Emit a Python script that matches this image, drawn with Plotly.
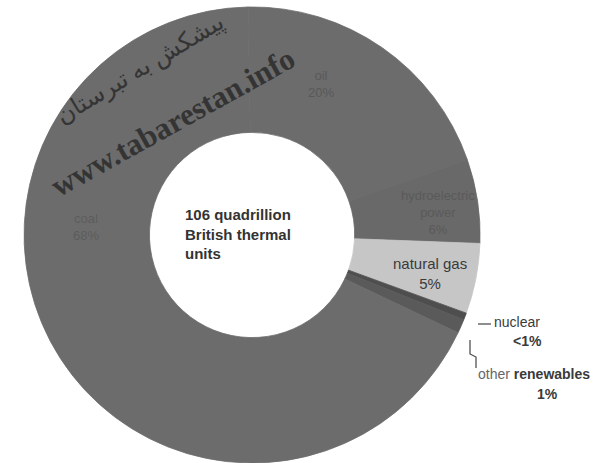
import plotly.graph_objects as go

categories = ["oil", "hydroelectric power", "natural gas", "nuclear", "other renewables", "coal"]
values = [20, 6, 5, 0.5, 1, 68]
pct_labels = ["20%", "6%", "5%", "<1%", "1%", "68%"]
colors = ["#6c6c6c", "#696969", "#c6c6c6", "#4e4e4e", "#5a5a5a", "#6c6c6c"]
center_text = "106 quadrillion<br>British thermal<br>units"

W, H = 604, 463

def px(x):
    return x / W

def py(y):
    return 1 - y / H

fig = go.Figure()
fig.add_trace(go.Pie(
    labels=categories,
    values=values,
    sort=False,
    direction="clockwise",
    rotation=-1,
    hole=0.45,
    marker=dict(colors=colors, line=dict(width=0.8, color=colors)),
    textinfo="none",
    hoverinfo="none",
    showlegend=False,
    domain=dict(x=[0.0397, 0.795], y=[0.0, 0.985]),
))

ann = []
def label(x, y, text, size=14, color="#333333", font="Arial, Liberation Sans, sans-serif", align="center", xanchor="center", angle=0, opacity=1):
    ann.append(dict(x=px(x), y=py(y), xref="paper", yref="paper", text=text, showarrow=False,
                    font=dict(size=size, color=color, family=font), align=align, xanchor=xanchor,
                    yanchor="middle", textangle=angle, opacity=opacity))

# faint labels on dark slices
label(321, 84, categories[0] + "<br>" + pct_labels[0], size=13, color="#595959")
label(86, 227, categories[5] + "<br>" + pct_labels[5], size=13, color="#5c5c5c")
label(438, 212, "hydroelectric<br>power<br>" + pct_labels[1], size=13, color="#5a5a5a")
# natural gas
label(430, 273, categories[2] + "<br>" + pct_labels[2], size=15, color="#3a3a3a")
# outside labels
label(492, 322, "nuclear", size=14, color="#3a3a3a", xanchor="left")
label(527, 341, "<b>" + pct_labels[3].replace("<", "&lt;") + "</b>", size=14, color="#3a3a3a")
label(476, 374, "<span style='color:#666666'>other</span> <b>renewables</b>", size=14, color="#3a3a3a", xanchor="left")
label(547, 394, "<b>" + pct_labels[4] + "</b>", size=14, color="#3a3a3a")
# center
label(183, 234, "<b>" + center_text + "</b>", size=15, color="#333333", align="left", xanchor="left")
# watermark
label(172, 122, "<b>www.tabarestan.info</b>", size=31, color="#2b2b2b",
      font="Liberation Serif, Times New Roman, serif", angle=-29, opacity=0.85)
label(139, 68, "پیشکش به تبرستان", size=24, color="#2b2b2b",
      font="Noto Sans, DejaVu Sans, sans-serif", angle=-31, opacity=0.85)

fig.update_layout(
    width=W, height=H,
    margin=dict(l=0, r=0, t=0, b=0),
    paper_bgcolor="white", plot_bgcolor="white",
    annotations=ann,
    shapes=[
        dict(type="line", xref="paper", yref="paper", x0=px(478), y0=py(324), x1=px(491), y1=py(324),
             line=dict(color="#444444", width=1.2)),
        dict(type="path", xref="paper", yref="paper",
             path=f"M {px(470)},{py(340)} L {px(470)},{py(354)} L {px(476)},{py(357)} L {px(476)},{py(368)}",
             line=dict(color="#444444", width=1.2)),
    ],
)

fig.write_html("out.html")
